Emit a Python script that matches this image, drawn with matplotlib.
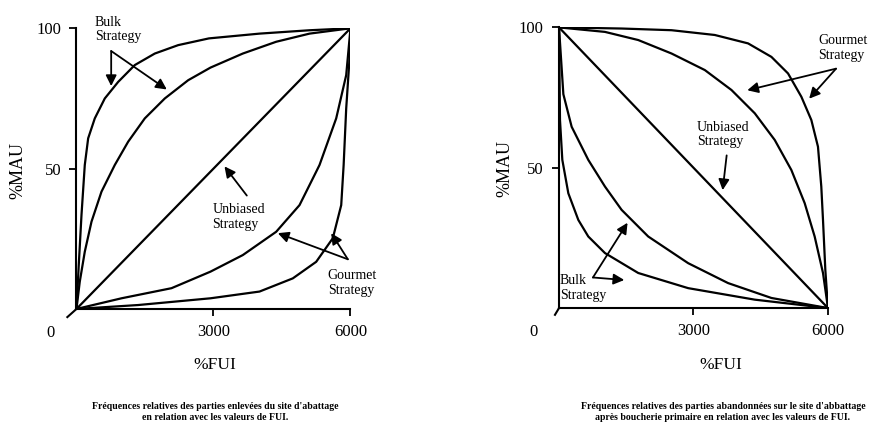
import matplotlib.pyplot as plt

plt.rcParams['font.family'] = ['Liberation Serif', 'DejaVu Serif']

# --- Left panel: parts removed from kill site ---
L_BULK_OUT_X = [0, 50, 110, 182, 256, 401, 620, 913, 1277, 1715, 2227, 2900, 4008, 5103, 6000]
L_BULK_OUT_Y = [0, 15.7, 33.5, 51.3, 60.8, 67.9, 75, 80.9, 86.9, 91, 94, 96.4, 98.1, 99.3, 100]
L_BULK_IN_X = [0, 72, 182, 329, 548, 839, 1132, 1496, 1934, 2446, 2935, 3642, 4373, 5103, 6000]
L_BULK_IN_Y = [0, 9.7, 20.4, 31.1, 41.8, 51.3, 59.6, 67.9, 75, 81.5, 86, 91, 95.2, 98.1, 100]
L_GOUR_IN_X = [0, 986, 2081, 2935, 3642, 4373, 4884, 5249, 5322, 5687, 5906, 6000]
L_GOUR_IN_Y = [0, 3.8, 7.4, 13.3, 19.2, 27.5, 37, 48.9, 51.3, 67.9, 83.3, 100]
L_GOUR_OUT_X = [0, 1351, 2935, 4008, 4737, 5249, 5613, 5797, 5850, 5906, 5979, 6000]
L_GOUR_OUT_Y = [0, 1.4, 3.8, 6.2, 10.9, 16.8, 25.2, 37, 51.3, 71.4, 89.2, 100]
L_UNBIASED_X = [0, 6000]
L_UNBIASED_Y = [0, 100]

# --- Right panel: parts abandoned at kill site ---
R_GOUR_OUT_X = [0, 1396, 2510, 3475, 4218, 4738, 5109, 5406, 5629, 5777, 5851, 5889, 5941, 6000]
R_GOUR_OUT_Y = [100, 99.6, 99.0, 97.3, 94.3, 89.5, 83.6, 75.3, 67, 57.5, 43.3, 31.4, 13.6, 0]
R_GOUR_IN_X = [0, 1025, 1767, 2510, 3253, 3847, 4367, 4812, 5183, 5480, 5703, 5889, 6000]
R_GOUR_IN_Y = [100, 98.4, 95.5, 90.7, 84.8, 77.7, 69.4, 59.9, 49.2, 37.4, 25.5, 12.5, 0]
R_BULK_IN_X = [0, 97, 282, 653, 1025, 1396, 1990, 2881, 3772, 4738, 6000]
R_BULK_IN_Y = [100, 76.2, 64.6, 52.8, 43.3, 35, 25.5, 16, 8.9, 3.6, 0]
R_BULK_OUT_X = [0, 22, 74, 208, 431, 653, 1025, 1767, 2881, 4367, 6000]
R_BULK_OUT_Y = [100, 67, 52.8, 40.9, 31.4, 25.5, 19.6, 12.5, 7.1, 3, 0]
R_UNBIASED_X = [0, 6000]
R_UNBIASED_Y = [100, 0]

X_TICKS = [3000, 6000]
Y_TICKS = [50, 100]

CAPTION_LEFT = "Fréquences relatives des parties enlevées du site d'abattage\nen relation avec les valeurs de FUI."
CAPTION_RIGHT = ("Fréquences relatives des parties abandonnées sur le site d'abbattage\n"
                 "après boucherie primaire en relation avec les valeurs de FUI.")


def style_axes(ax, stub_x, stub_y):
    ax.set_xlim(0, 6000)
    ax.set_ylim(0, 100)
    for side in ('top', 'right'):
        ax.spines[side].set_visible(False)
    for side in ('left', 'bottom'):
        ax.spines[side].set_linewidth(1.5)
    ax.set_xticks(X_TICKS)
    ax.set_yticks(Y_TICKS)
    ax.tick_params(axis='both', direction='out', length=5, width=1.3,
                   labelsize=12, pad=6)
    # little diagonal stub at the origin and the "0" label
    ax.plot(stub_x, stub_y, color='black', lw=1.5, clip_on=False)
    ax.text(-560, -8.6, "0", fontsize=12, ha='center', va='center', clip_on=False)


def arrow(ax, start, end):
    ax.annotate("", xy=end, xytext=start, annotation_clip=False,
                arrowprops=dict(arrowstyle='-|>', color='black', lw=1.3,
                                mutation_scale=16, shrinkA=0, shrinkB=0))


fig = plt.figure(figsize=(8.71, 4.42), dpi=100)
ax1 = fig.add_axes([0.0878, 0.301, 0.3146, 0.635])
ax2 = fig.add_axes([0.6418, 0.303, 0.3088, 0.635])

line_kw = dict(color='black', lw=1.6, solid_capstyle='round', solid_joinstyle='round')

# left
ax1.plot(L_BULK_OUT_X, L_BULK_OUT_Y, **line_kw)
ax1.plot(L_BULK_IN_X, L_BULK_IN_Y, **line_kw)
ax1.plot(L_UNBIASED_X, L_UNBIASED_Y, **line_kw)
ax1.plot(L_GOUR_IN_X, L_GOUR_IN_Y, **line_kw)
ax1.plot(L_GOUR_OUT_X, L_GOUR_OUT_Y, **line_kw)
style_axes(ax1, [-200, 0], [-2.9, 0])

ax1.text(400, 104.5, "Bulk\nStrategy", fontsize=10, ha='left', va='top',
         linespacing=1.15, clip_on=False)
arrow(ax1, (760, 91.9), (760, 79.4))
arrow(ax1, (760, 91.9), (1978, 78.2))
ax1.text(2978, 32.7, "Unbiased\nStrategy", fontsize=10, ha='left', va='center', linespacing=1.15)
arrow(ax1, (3730, 40.4), (3241, 50.8))
ax1.text(5500, 9.3, "Gourmet\nStrategy", fontsize=10, ha='left', va='center',
         linespacing=1.15, clip_on=False)
arrow(ax1, (5942, 17.7), (4409, 27))
arrow(ax1, (5942, 17.7), (5578, 27))

# right
ax2.plot(R_GOUR_OUT_X, R_GOUR_OUT_Y, **line_kw)
ax2.plot(R_GOUR_IN_X, R_GOUR_IN_Y, **line_kw)
ax2.plot(R_UNBIASED_X, R_UNBIASED_Y, **line_kw)
ax2.plot(R_BULK_IN_X, R_BULK_IN_Y, **line_kw)
ax2.plot(R_BULK_OUT_X, R_BULK_OUT_Y, **line_kw)
style_axes(ax2, [-90, 0], [-2.4, 0])

ax2.text(5780, 92.7, "Gourmet\nStrategy", fontsize=10, ha='left', va='center',
         linespacing=1.15, clip_on=False)
arrow(ax2, (6180, 85.3), (4200, 77.6))
arrow(ax2, (6180, 85.3), (5580, 74.6))
ax2.text(3080, 61.9, "Unbiased\nStrategy", fontsize=10, ha='left', va='center', linespacing=1.15)
arrow(ax2, (3740, 54.4), (3650, 42))
ax2.text(22, 7.1, "Bulk\nStrategy", fontsize=10, ha='left', va='center', linespacing=1.15)
arrow(ax2, (757, 10.9), (1529, 30.4))
arrow(ax2, (757, 10.9), (1456, 10))

# axis labels
fig.text(0.247, 0.174, "%FUI", fontsize=12.5, ha='center', va='center')
fig.text(0.828, 0.174, "%FUI", fontsize=12.5, ha='center', va='center')
fig.text(0.021, 0.615, "%MAU", fontsize=13, rotation=90, ha='center', va='center')
fig.text(0.580, 0.618, "%MAU", fontsize=13, rotation=90, ha='center', va='center')

# captions
fig.text(0.247, 0.068, CAPTION_LEFT, fontsize=7, fontweight='bold', ha='center',
         va='center', linespacing=1.25)
fig.text(0.830, 0.068, CAPTION_RIGHT, fontsize=7, fontweight='bold', ha='center',
         va='center', linespacing=1.25)

fig.savefig("out.png", dpi=100)
